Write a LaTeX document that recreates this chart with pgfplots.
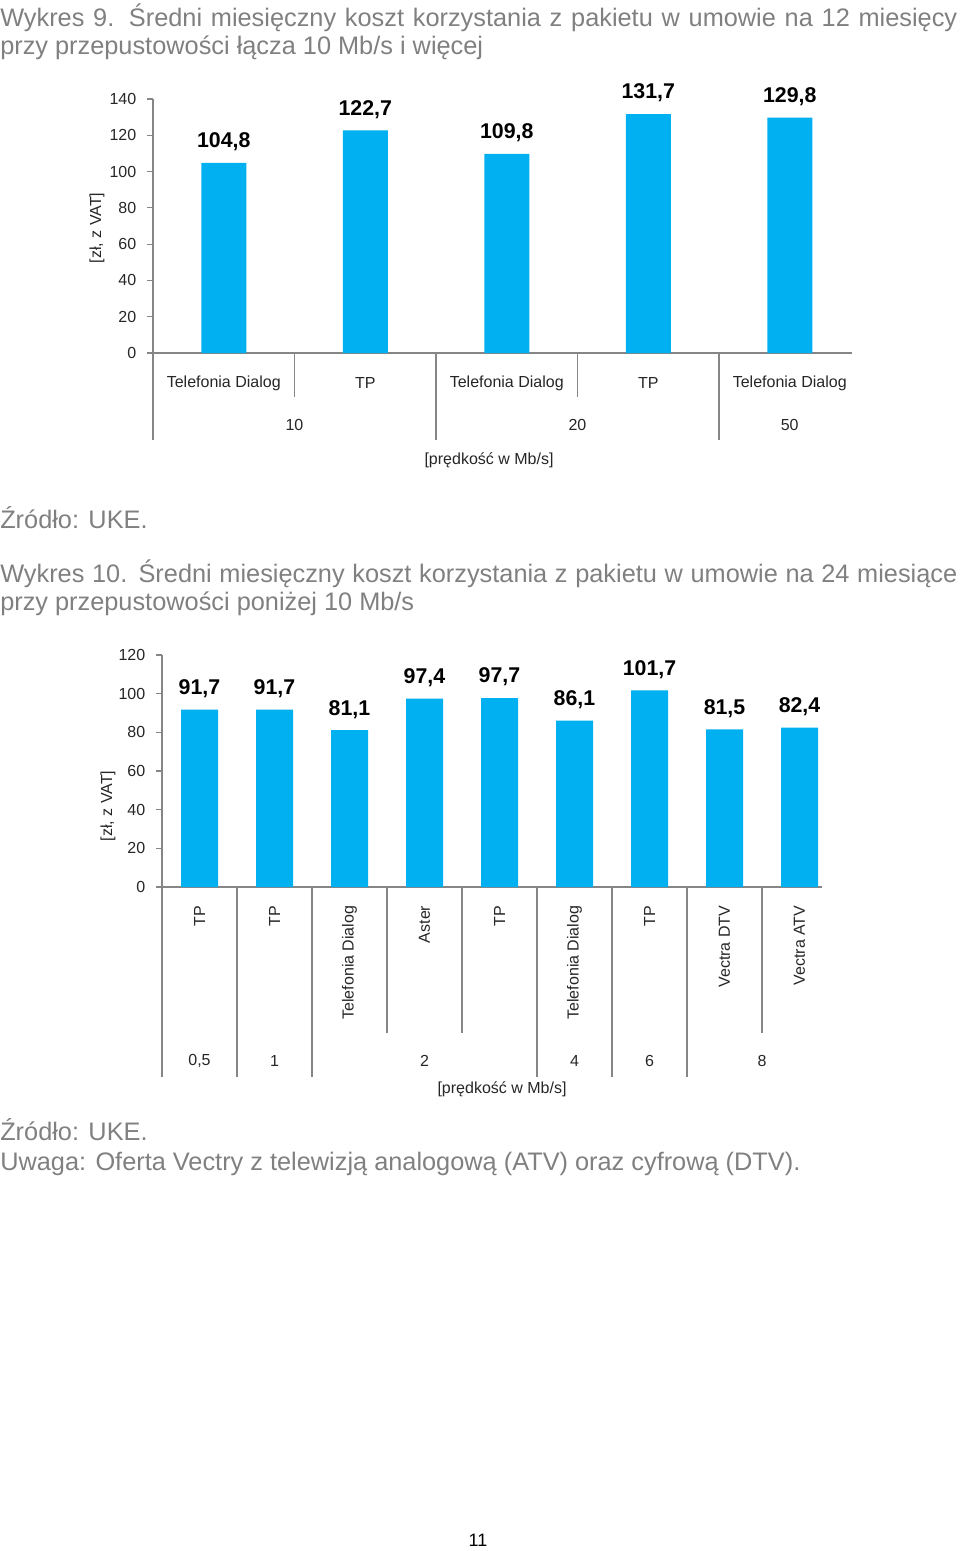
\documentclass[border=0pt]{standalone}
\usepackage{pgfplots}
\pgfplotsset{compat=1.18}
\usepackage{fontspec}
\setmainfont{Liberation Sans}
\definecolor{barblue}{RGB}{0,176,240}
\definecolor{axgray}{RGB}{134,134,134}
\definecolor{titlegray}{RGB}{128,128,128}
\definecolor{txt}{RGB}{38,38,38}
\newcommand{\tf}{\fontsize{19}{22}\selectfont}
\newcommand{\cf}{\fontsize{12}{14}\selectfont}
\tikzset{sepline/.style={axgray, line width=0.8pt}}
\pgfplotsset{
  mybars/.style={
    scale only axis, anchor=south west,
    ymin=0,
    axis x line*=bottom, axis y line*=left,
    axis line style={axgray, line width=0.8pt},
    ytick style={axgray, line width=0.8pt},
    tick align=outside, major tick length=4.5pt,
    xtick style={draw=none},
    ticklabel style={font=\cf, text=txt},
    yticklabel style={xshift=-4.5pt},
    /pgf/number format/assume math mode=true,
    clip=false,
    ybar,
    nodes near coords={\pgfmathprintnumber[fixed,fixed zerofill,precision=1,use comma,assume math mode=true]{\pgfplotspointmeta}},
    nodes near coords style={font=\fontsize{16}{19}\selectfont\bfseries, text=black, anchor=center, yshift=15.75pt},
  },
}
\begin{document}
\begin{tikzpicture}
\useasboundingbox (0,0) rectangle (720pt,-1163.25pt);
\begin{scope}[x=0.75pt,y=-0.75pt]
\node[anchor=base west, inner sep=0, font=\tf, text=titlegray] at (0,27) {\makebox[717.75pt][s]{Wykres 9. Średni miesięczny koszt korzystania z pakietu w umowie na 12 miesięcy}};
\node[anchor=base west, inner sep=0, font=\tf, text=titlegray] at (0,55) {przy przepustowości łącza 10 Mb/s i więcej};
\node[anchor=base west, inner sep=0, font=\tf, text=titlegray] at (0,528) {Źródło: UKE.};
\node[anchor=base west, inner sep=0, font=\tf, text=titlegray] at (0,582) {\makebox[717.75pt][s]{Wykres 10. Średni miesięczny koszt korzystania z pakietu w umowie na 24 miesiące}};
\node[anchor=base west, inner sep=0, font=\tf, text=titlegray] at (0,610) {przy przepustowości poniżej 10 Mb/s};
\node[anchor=base west, inner sep=0, font=\tf, text=titlegray] at (0,1140) {Źródło: UKE.};
\node[anchor=base west, inner sep=0, font=\tf, text=titlegray] at (0,1170) {Uwaga: Oferta Vectry z telewizją analogową (ATV) oraz cyfrową (DTV).};
\node[font=\cf, text=txt] at (489,460) {[prędkość w Mb/s]};
\node[font=\cf, text=txt, rotate=90] at (97,228) {[zł, z VAT]};
\node[font=\cf, text=txt] at (502,1089) {[prędkość w Mb/s]};
\node[font=\cf, text=txt, rotate=90] at (108,806) {[zł, z VAT]};
\node[font=\fontsize{13.5}{16}\selectfont, text=black] at (478,1540) {11};
\end{scope}

% Chart 1
\begin{axis}[mybars,
  at={(114.75pt,-264.75pt)},
  width=524.25pt, height=190.5pt,
  xmin=0.5, xmax=5.44, ymax=140, ytick={0,20,...,140},
  bar width=33.75pt,
  xtick={1,2,3,4,5},
  xticklabels={Telefonia Dialog, TP, Telefonia Dialog, TP, Telefonia Dialog},
  xticklabel style={anchor=center, yshift=-18pt},
]
\addplot[fill=barblue, draw=none] coordinates {(1,104.8) (2,122.7) (3,109.8) (4,131.7) (5,129.8)};
\draw[sepline] (axis cs:0.5,0) -- ++(0pt,-65.25pt);
\draw[sepline] (axis cs:2.5,0) -- ++(0pt,-65.25pt);
\draw[sepline] (axis cs:4.5,0) -- ++(0pt,-65.25pt);
\draw[sepline] (axis cs:1.5,0) -- ++(0pt,-33pt);
\draw[sepline] (axis cs:3.5,0) -- ++(0pt,-33pt);
\node[font=\cf, text=txt] at (axis cs:1.5,0) [yshift=-54pt] {10};
\node[font=\cf, text=txt] at (axis cs:3.5,0) [yshift=-54pt] {20};
\node[font=\cf, text=txt] at (axis cs:5,0) [yshift=-54pt] {50};
\end{axis}

% Chart 2
\begin{axis}[mybars,
  at={(121.5pt,-665.25pt)},
  width=495pt, height=174pt,
  xmin=0.5, xmax=9.3, ymax=120, ytick={0,20,...,120},
  bar width=27.75pt,
  xtick={1,...,9},
  xticklabels={TP, TP, Telefonia Dialog, Aster, TP, Telefonia Dialog, TP, Vectra DTV, Vectra ATV},
  xticklabel style={yshift=-6pt, rotate=90, anchor=east},
]
\addplot[fill=barblue, draw=none] coordinates {(1,91.7) (2,91.7) (3,81.1) (4,97.4) (5,97.7) (6,86.1) (7,101.7) (8,81.5) (9,82.4)};
\draw[sepline] (axis cs:0.5,0) -- ++(0pt,-142.5pt);
\draw[sepline] (axis cs:1.5,0) -- ++(0pt,-142.5pt);
\draw[sepline] (axis cs:2.5,0) -- ++(0pt,-142.5pt);
\draw[sepline] (axis cs:5.5,0) -- ++(0pt,-142.5pt);
\draw[sepline] (axis cs:6.5,0) -- ++(0pt,-142.5pt);
\draw[sepline] (axis cs:7.5,0) -- ++(0pt,-142.5pt);
\draw[sepline] (axis cs:3.5,0) -- ++(0pt,-109.5pt);
\draw[sepline] (axis cs:4.5,0) -- ++(0pt,-109.5pt);
\draw[sepline] (axis cs:8.5,0) -- ++(0pt,-109.5pt);
\node[font=\cf, text=txt] at (axis cs:1,0) [yshift=-130.5pt] {0,5};
\node[font=\cf, text=txt] at (axis cs:2,0) [yshift=-130.5pt] {1};
\node[font=\cf, text=txt] at (axis cs:4,0) [yshift=-130.5pt] {2};
\node[font=\cf, text=txt] at (axis cs:6,0) [yshift=-130.5pt] {4};
\node[font=\cf, text=txt] at (axis cs:7,0) [yshift=-130.5pt] {6};
\node[font=\cf, text=txt] at (axis cs:8.5,0) [yshift=-130.5pt] {8};
\end{axis}
\end{tikzpicture}
\end{document}
